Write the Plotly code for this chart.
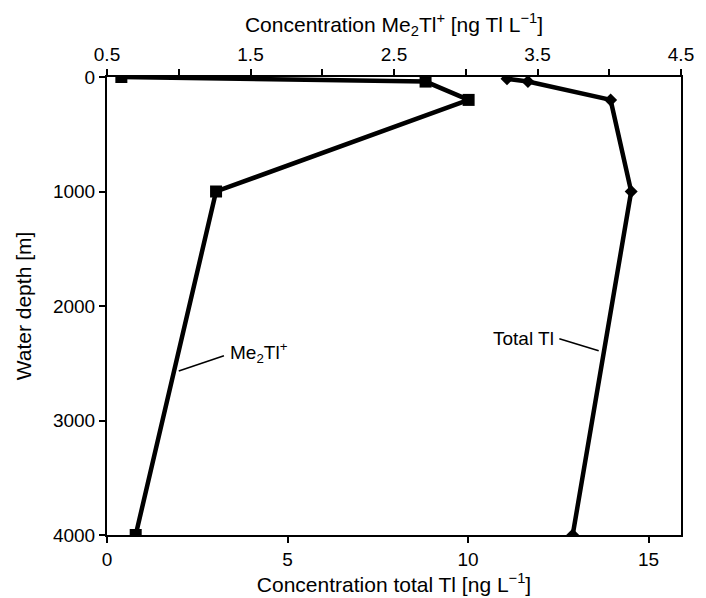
import plotly.graph_objects as go

# Depth profiles (water depth in m)
me2tl_depth = [0, 40, 200, 1000, 4000]
me2tl_conc = [0.60, 2.72, 3.02, 1.26, 0.70]        # ng Tl L-1 (top axis)

total_depth = [15, 40, 200, 1000, 4000]
total_conc = [11.08, 11.66, 13.95, 14.52, 12.90]    # ng L-1 (bottom axis)

bottom_ticks = [0, 5, 10, 15]
top_ticks = [0.5, 1.5, 2.5, 3.5, 4.5]
top_minor = [1.0, 2.0, 3.0, 4.0]
depth_ticks = [0, 1000, 2000, 3000, 4000]

FONT = "Liberation Sans, Arial, Helvetica, sans-serif"
LW = 4.5
TICK_SIZE = 19
TITLE_SIZE = 21

fig = go.Figure()

fig.add_trace(go.Scatter(
    x=total_conc, y=total_depth, xaxis="x", yaxis="y",
    mode="lines+markers", name="Total Tl",
    line=dict(color="black", width=LW),
    marker=dict(symbol="diamond", size=10, color="black"),
    showlegend=False,
))

fig.add_trace(go.Scatter(
    x=me2tl_conc, y=me2tl_depth, xaxis="x2", yaxis="y",
    mode="lines+markers", name="Me2Tl+",
    line=dict(color="black", width=LW),
    marker=dict(symbol="square", size=12, color="black"),
    showlegend=False,
))

axis_common = dict(
    showgrid=False, zeroline=False, showline=True, linecolor="black",
    linewidth=2, ticks="outside", tickcolor="black", tickwidth=1.5,
    ticklen=6, tickfont=dict(family=FONT, size=TICK_SIZE, color="black"),
)

fig.update_layout(
    width=706, height=598,
    margin=dict(l=107, r=15, t=77, b=61),
    plot_bgcolor="white", paper_bgcolor="white",
    font=dict(family=FONT, size=TICK_SIZE, color="black"),
    xaxis=dict(
        range=[0, 15.9], tickvals=bottom_ticks,
        title=dict(text="Concentration total Tl [ng L<sup>\u22121</sup>]",
                   font=dict(family=FONT, size=TITLE_SIZE), standoff=2),
        mirror=False, **axis_common,
    ),
    # inner half of the crossing ticks on the bottom axis
    xaxis3=dict(
        range=[0, 15.9], overlaying="x", side="bottom", anchor="y",
        tickvals=bottom_ticks, ticks="inside", ticklen=6, tickwidth=1.5,
        tickcolor="black", showticklabels=False, showgrid=False,
        zeroline=False, showline=False,
    ),
    xaxis2=dict(
        range=[0.5, 4.5], overlaying="x", side="top",
        tickvals=top_ticks,
        minor=dict(tickvals=top_minor, ticks="outside", ticklen=6,
                   tickcolor="black", tickwidth=1.5),
        title=dict(text="Concentration Me<sub>2</sub>Tl<sup>+</sup> [ng Tl L<sup>\u22121</sup>]",
                   font=dict(family=FONT, size=TITLE_SIZE), standoff=6),
        **axis_common,
    ),
    yaxis=dict(
        range=[4000, 0], tickvals=depth_ticks,
        title=dict(text="Water depth [m]", font=dict(family=FONT, size=TITLE_SIZE),
                   standoff=16),
        mirror=True, **axis_common,
    ),
)

# Series labels with leader lines
fig.add_annotation(
    x=1.342, y=2408, xref="x2", yref="y", text="Me<sub>2</sub>Tl<sup>+</sup>",
    showarrow=False, xanchor="left", yanchor="middle",
    font=dict(family=FONT, size=TICK_SIZE, color="black"),
)
fig.add_shape(type="line", xref="x2", yref="y",
              x0=1.315, y0=2434, x1=1.0, y1=2568,
              line=dict(color="black", width=1.5))

fig.add_annotation(
    x=12.45, y=2286, xref="x", yref="y", text="Total Tl",
    showarrow=False, xanchor="right", yanchor="middle",
    font=dict(family=FONT, size=TICK_SIZE, color="black"),
)
fig.add_shape(type="line", xref="x", yref="y",
              x0=12.53, y0=2286, x1=13.62, y1=2390,
              line=dict(color="black", width=1.5))

fig.write_html("out.html")
